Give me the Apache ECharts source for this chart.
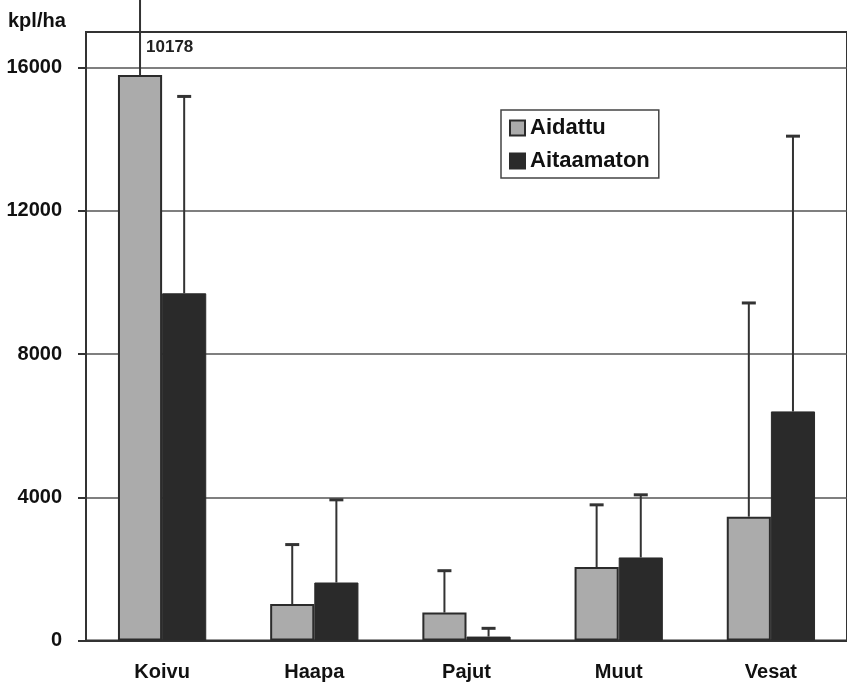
<!DOCTYPE html>
<html>
<head>
<meta charset="utf-8">
<script src="https://cdn.jsdelivr.net/npm/echarts@6/dist/echarts.min.js"></script>
<style>
  html, body { margin: 0; padding: 0; background: #fff; }
  #chart { width: 847px; height: 689px; }
</style>
</head>
<body>
<div id="chart"></div>
<script>
// Stem counts per hectare, fenced vs. unfenced plots, with standard deviations
const categories = ['Koivu', 'Haapa', 'Pajut', 'Muut', 'Vesat'];
const seriesNames = ['Aidattu', 'Aitaamaton'];
const aidattu = [15800, 1020, 780, 2050, 3460];
const aidattuSd = [10178, 1660, 1170, 1740, 5970];
const aitaamaton = [9700, 1620, 110, 2320, 6400];
const aitaamatonSd = [5500, 2310, 230, 1750, 7690];
const yTicks = [0, 4000, 8000, 12000, 16000];
const yMax = 17000;

const FONT = "'Liberation Sans', Arial, sans-serif";
const LINE = '#333333';
const BAR_FRAC = 0.29;   // bar width as a share of the category band

// Upper whisker with a cap; whiskers leaving the plot get their SD written beside them
function whisker(side) {
  return function (params, api) {
    const cat = api.value(0);
    const mean = api.value(1);
    const sd = api.value(2);
    const band = api.size([1, 0])[0];
    const dx = side * band * BAR_FRAC / 2;
    const base = api.coord([cat, mean]);
    const tip = api.coord([cat, mean + sd]);
    const x = base[0] + dx;
    const children = [
      { type: 'line', shape: { x1: x, y1: base[1], x2: x, y2: tip[1] },
        style: { stroke: LINE, lineWidth: 2 } },
      { type: 'line', shape: { x1: x - 7, y1: tip[1], x2: x + 7, y2: tip[1] },
        style: { stroke: LINE, lineWidth: 3 } }
    ];
    if (mean + sd > yMax) {
      const top = api.coord([cat, yMax]);
      children.push({
        type: 'text',
        style: { text: String(sd), x: x + 6, y: top[1] + 15, fill: '#222',
                 font: '600 17px ' + FONT, textAlign: 'left', textVerticalAlign: 'middle' }
      });
    }
    return { type: 'group', children: children };
  };
}

const chart = echarts.init(document.getElementById('chart'), null, { renderer: 'canvas' });
chart.setOption({
  animation: false,
  backgroundColor: '#ffffff',
  title: {
    text: 'kpl/ha', left: 3, top: 6,
    textStyle: { fontFamily: FONT, fontWeight: 'bold', fontSize: 20, color: '#111' }
  },
  legend: {
    data: seriesNames.map(n => ({ name: n, icon: 'rect' })),
    orient: 'vertical',
    left: 501, top: 110,
    backgroundColor: '#fff',
    borderColor: '#444', borderWidth: 1.5,
    padding: [7, 9, 6, 8],
    itemGap: 11, itemWidth: 15, itemHeight: 15,
    textStyle: { fontFamily: FONT, fontWeight: 'bold', fontSize: 22, color: '#111' }
  },
  grid: {
    left: 86, top: 32, width: 762, height: 608.5,
    show: true, borderColor: LINE, borderWidth: 2, backgroundColor: 'transparent'
  },
  xAxis: {
    type: 'category',
    data: categories,
    axisLine: { lineStyle: { color: LINE, width: 2 } },
    axisTick: { show: false },
    axisLabel: { margin: 22, fontFamily: FONT, fontWeight: 'bold', fontSize: 20, color: '#111' }
  },
  yAxis: {
    type: 'value',
    min: 0, max: yMax, interval: 4000,
    axisLine: { show: true, lineStyle: { color: LINE, width: 2 } },
    axisTick: { show: true, length: 8, customValues: yTicks, lineStyle: { color: LINE, width: 2 } },
    axisLabel: { margin: 24, customValues: yTicks, formatter: v => String(v),
                 fontFamily: FONT, fontWeight: 'bold', fontSize: 20, color: '#111' },
    splitLine: { show: true, lineStyle: { color: '#555', width: 1.5 } }
  },
  series: [
    {
      name: seriesNames[0], type: 'bar', data: aidattu,
      barWidth: (BAR_FRAC * 100) + '%', barGap: '0%',
      itemStyle: { color: '#ababab', borderColor: '#2b2b2b', borderWidth: 2 },
      z: 3
    },
    {
      name: seriesNames[1], type: 'bar', data: aitaamaton,
      barWidth: (BAR_FRAC * 100) + '%', barGap: '0%',
      itemStyle: { color: '#2a2a2a', borderColor: '#2a2a2a', borderWidth: 1 },
      z: 3
    },
    {
      name: 'sd-a', type: 'custom', renderItem: whisker(-1), z: 2, clip: false,
      data: aidattu.map((v, i) => [i, v, aidattuSd[i]]),
      encode: { x: 0, y: 1 }, silent: true
    },
    {
      name: 'sd-b', type: 'custom', renderItem: whisker(1), z: 2, clip: false,
      data: aitaamaton.map((v, i) => [i, v, aitaamatonSd[i]]),
      encode: { x: 0, y: 1 }, silent: true
    }
  ]
});
</script>
</body>
</html>
